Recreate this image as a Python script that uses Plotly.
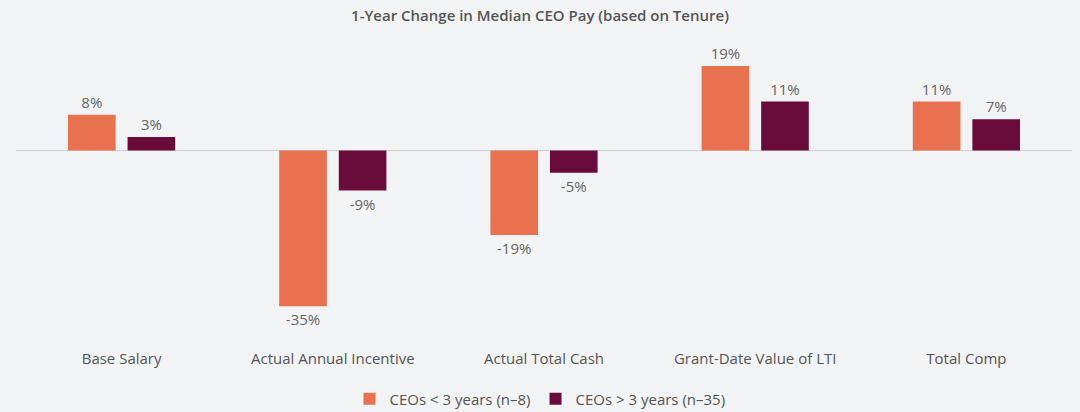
import plotly.graph_objects as go

categories = ["Base Salary", "Actual Annual Incentive", "Actual Total Cash",
              "Grant-Date Value of LTI", "Total Comp"]
short_tenure = [8, -35, -19, 19, 11]
long_tenure = [3, -9, -5, 11, 7]
series_names = ["CEOs < 3 years (n\u20138)", "CEOs > 3 years (n\u201335)"]
title_text = "1-Year Change in Median CEO Pay (based on Tenure)"

bg = "#F2F3F5"
font_family = "'Open Sans', Lato, sans-serif"
W, H = 1080, 412

fig = go.Figure()
fig.add_trace(go.Bar(
    x=categories, y=short_tenure, name=series_names[0],
    marker=dict(color="#E8714F", line=dict(width=0)),
    text=[f"{v}%" for v in short_tenure], textposition="outside",
    textfont=dict(size=15, color="#666666"), cliponaxis=False,
))
fig.add_trace(go.Bar(
    x=categories, y=long_tenure, name=series_names[1],
    marker=dict(color="#6A0C3B", line=dict(width=0)),
    text=[f"{v}%" for v in long_tenure], textposition="outside",
    textfont=dict(size=15, color="#666666"), cliponaxis=False,
))

fig.update_layout(
    width=W, height=H,
    paper_bgcolor=bg, plot_bgcolor=bg,
    font=dict(family=font_family, size=15, color="#555555"),
    title=dict(text=title_text, x=0.5, xanchor="center", y=1 - 16 / H, yanchor="middle",
               font=dict(size=15, color="#555555", weight=600)),
    margin=dict(l=16, r=8, t=35, b=72, autoexpand=False),
    barmode="group", bargap=0.436, bargroupgap=0.2,
    showlegend=True,
    legend=dict(orientation="h", x=0.5, xanchor="center", xref="container",
                y=1 - 399 / H, yanchor="middle", yref="container",
                font=dict(size=15, color="#555555"), bgcolor="rgba(0,0,0,0)"),
    xaxis=dict(showgrid=False, showline=False, ticks="", zeroline=False, automargin=False,
               tickfont=dict(size=15, color="#555555"), ticklabelstandoff=8),
    yaxis=dict(range=[-42.6, 25.95], showgrid=False, showticklabels=False, ticks="",
               automargin=False,
               zeroline=True, zerolinecolor="#D0D0D4", zerolinewidth=1, showline=False),
    hovermode=False,
)

fig.write_html(
    "out.html",
    config={"displayModeBar": False},
    post_script="document.body.style.margin='0';document.body.style.background='#F2F3F5';",
)
